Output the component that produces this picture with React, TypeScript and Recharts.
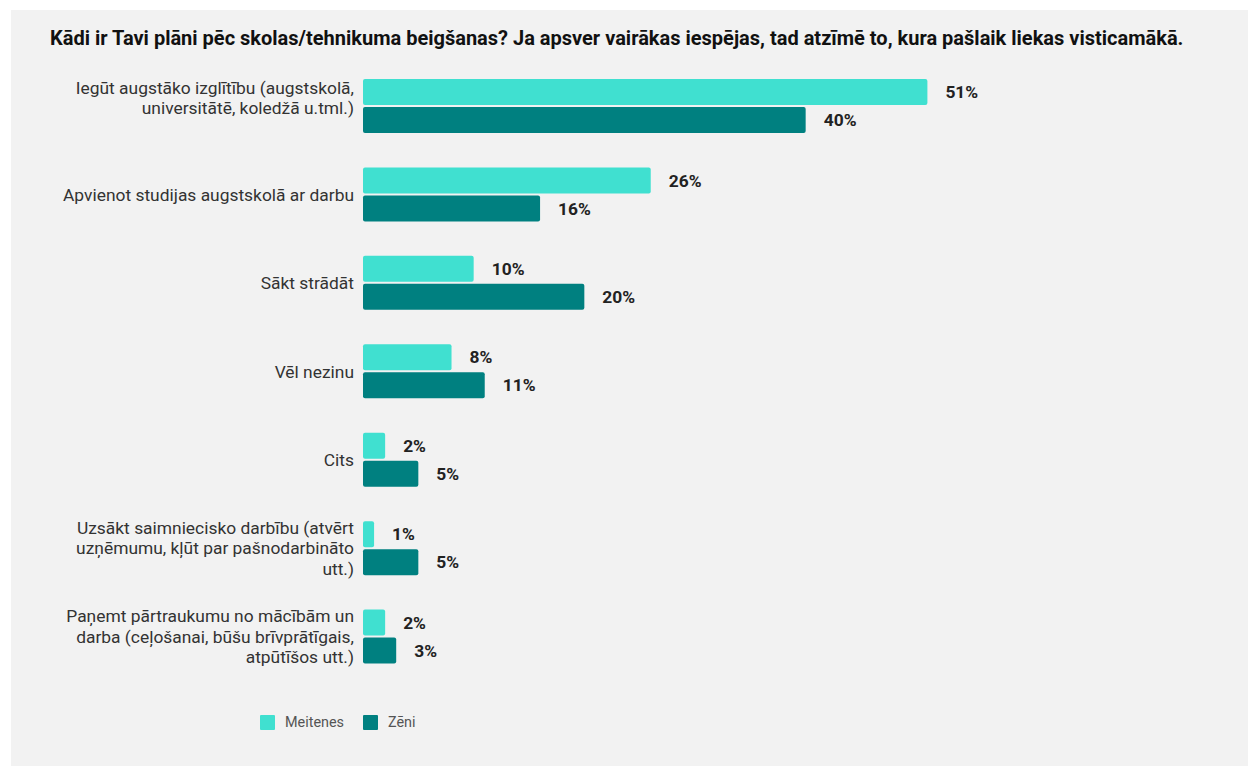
import React from 'react';
import { BarChart, Bar, XAxis, YAxis, LabelList } from 'recharts';

const title =
  'Kādi ir Tavi plāni pēc skolas/tehnikuma beigšanas? Ja apsver vairākas iespējas, tad atzīmē to, kura pašlaik liekas visticamākā.';

const categories = [
  'Iegūt augstāko izglītību (augstskolā,\nuniversitātē, koledžā u.tml.)',
  'Apvienot studijas augstskolā ar darbu',
  'Sākt strādāt',
  'Vēl nezinu',
  'Cits',
  'Uzsākt saimniecisko darbību (atvērt\nuzņēmumu, kļūt par pašnodarbināto\nutt.)',
  'Paņemt pārtraukumu no mācībām un\ndarba (ceļošanai, būšu brīvprātīgais,\natpūtīšos utt.)',
];

const meitenes = [51, 26, 10, 8, 2, 1, 2];
const zeni = [40, 16, 20, 11, 5, 5, 3];

const seriesNames = ['Meitenes', 'Zēni'];
const seriesColors = ['#40E0D0', '#008080'];

const data = categories.map((name, i) => ({
  name,
  meitenes: meitenes[i],
  zeni: zeni[i],
}));

const FONT = 'Roboto, "Noto Sans", sans-serif';

const CategoryTick = (props: any) => {
  const { x, y, payload } = props;
  const lines = String(payload.value).split('\n');
  const lh = 20.5;
  const shift = lines.length === 2 ? 8.5 : 0;
  const startY = y - ((lines.length - 1) * lh) / 2 - shift;
  return (
    <text
      x={x - 1}
      y={startY}
      textAnchor="end"
      fill="#333333"
      fontSize={17.4}
      fontFamily={FONT}
    >
      {lines.map((l, i) => (
        <tspan key={i} x={x - 1} dy={i === 0 ? '0.35em' : lh}>
          {l}
        </tspan>
      ))}
    </text>
  );
};

const ValueLabel = (props: any) => {
  const { x, y, width, height, value } = props;
  return (
    <text
      x={x + width + 18}
      y={y + height / 2}
      dy="0.35em"
      fill="#222222"
      fontSize={17.4}
      fontWeight="bold"
      fontFamily={FONT}
    >
      {value}%
    </text>
  );
};

export default function App() {
  return (
    <div
      style={{
        position: 'absolute',
        left: 0,
        top: 0,
        width: 1248,
        height: 766,
        background: '#ffffff',
        overflow: 'hidden',
        fontFamily: FONT,
      }}
    >
      <div
        style={{
          position: 'absolute',
          left: 11,
          top: 10,
          width: 1237,
          height: 756,
          background: '#F2F2F2',
        }}
      />
      <div
        style={{
          position: 'absolute',
          left: 50,
          top: 26,
          fontSize: 20,
          fontWeight: 'bold',
          color: '#111111',
          whiteSpace: 'nowrap',
          lineHeight: '24px',
        }}
      >
        {title}
      </div>
      <div style={{ position: 'absolute', left: 0, top: 0 }}>
        <BarChart
          width={1248}
          height={766}
          data={data}
          layout="vertical"
          margin={{ top: 62, right: 221, bottom: 85, left: 0 }}
          barSize={26}
          barGap={2}
        >
          <XAxis type="number" domain={[0, 60]} hide />
          <YAxis
            type="category"
            dataKey="name"
            width={363}
            tickLine={false}
            axisLine={false}
            tick={<CategoryTick />}
            interval={0}
          />
          <Bar
            dataKey="meitenes"
            name={seriesNames[0]}
            fill={seriesColors[0]}
            radius={2}
            isAnimationActive={false}
          >
            <LabelList dataKey="meitenes" content={<ValueLabel />} />
          </Bar>
          <Bar
            dataKey="zeni"
            name={seriesNames[1]}
            fill={seriesColors[1]}
            radius={2}
            isAnimationActive={false}
          >
            <LabelList dataKey="zeni" content={<ValueLabel />} />
          </Bar>
        </BarChart>
      </div>
      {seriesNames.map((n, i) => (
        <div
          key={n}
          style={{
            position: 'absolute',
            left: i === 0 ? 260 : 363,
            top: 715,
            display: 'flex',
            alignItems: 'center',
            height: 15,
          }}
        >
          <div style={{ width: 15, height: 15, background: seriesColors[i], borderRadius: 1 }} />
          <span style={{ marginLeft: 10, fontSize: 14.4, color: '#555555' }}>{n}</span>
        </div>
      ))}
    </div>
  );
}
